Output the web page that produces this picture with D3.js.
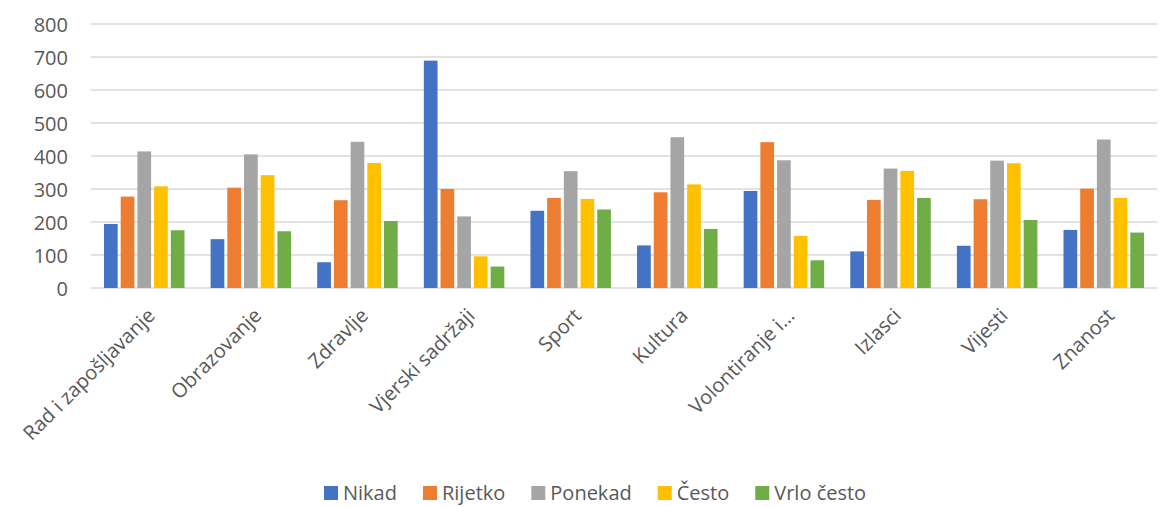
<!DOCTYPE html>
<html>
<head>
<meta charset="utf-8">
<script src="https://cdn.jsdelivr.net/npm/d3@7"></script>
<style>
  body { margin: 0; background: #fff; }
  text { font-family: "Open Sans", sans-serif; fill: #595959; }
</style>
</head>
<body>
<svg id="chart" width="1167" height="507"></svg>
<script>
const categories = ["Rad i zapošljavanje", "Obrazovanje", "Zdravlje", "Vjerski sadržaji", "Sport",
    "Kultura", "Volontiranje i…", "Izlasci", "Vijesti", "Znanost"];
const seriesNames = ["Nikad", "Rijetko", "Ponekad", "Često", "Vrlo često"];
const nikad = [194, 148, 78, 689, 234, 129, 294, 111, 128, 176];
const rijetko = [277, 304, 266, 300, 273, 290, 442, 267, 269, 301];
const ponekad = [414, 405, 443, 217, 354, 457, 387, 362, 386, 450];
const cesto = [308, 342, 379, 96, 270, 314, 158, 355, 378, 273];
const vrloCesto = [175, 172, 203, 65, 238, 179, 84, 273, 206, 168];
const yTicks = [0, 100, 200, 300, 400, 500, 600, 700, 800];
const colors = ["#4472c4", "#ed7d31", "#a5a5a5", "#ffc000", "#70ad47"];

const allSeries = [nikad, rijetko, ponekad, cesto, vrloCesto];
const data = categories.map((c, i) => ({
    cat: c,
    values: seriesNames.map((s, j) => ({ key: s, value: allSeries[j][i] })),
}));

const svg = d3.select("#chart");
const plotLeft = 91, plotRight = 1157, plotTop = 24, plotBottom = 288;

const x0 = d3.scaleBand().domain(categories).range([plotLeft, plotRight])
    .paddingInner(0.245).paddingOuter(0.122);
const x1 = d3.scaleBand().domain(seriesNames).range([0, x0.bandwidth()]).paddingInner(0.18);
const y = d3.scaleLinear().domain([0, 800]).range([plotBottom, plotTop]);
const color = d3.scaleOrdinal().domain(seriesNames).range(colors);

// gridlines
svg.append("g")
    .selectAll("line")
    .data(yTicks)
    .join("line")
    .attr("x1", plotLeft)
    .attr("x2", plotRight)
    .attr("y1", (d) => y(d))
    .attr("y2", (d) => y(d))
    .attr("stroke", "#d9d9d9")
    .attr("stroke-width", 1.3);

// y axis labels
const yAxis = svg.append("g")
    .attr("transform", `translate(${plotLeft - 23},0)`)
    .call(d3.axisLeft(y).tickValues(yTicks).tickSize(0).tickPadding(0));
yAxis.select(".domain").remove();
yAxis.selectAll("text").style("font-size", "20px").attr("dy", "0.35em");

// bars
svg.append("g")
    .selectAll("g")
    .data(data)
    .join("g")
    .attr("transform", (d) => `translate(${x0(d.cat)},0)`)
    .selectAll("rect")
    .data((d) => d.values)
    .join("rect")
    .attr("x", (d) => x1(d.key))
    .attr("y", (d) => y(d.value))
    .attr("width", x1.bandwidth())
    .attr("height", (d) => y(0) - y(d.value))
    .attr("fill", (d) => color(d.key));

// category labels, rotated like excel does it
svg.append("g")
    .selectAll("text")
    .data(categories)
    .join("text")
    .attr("transform", (d) => `translate(${x0(d) + x0.bandwidth() / 2 + 2},${plotBottom + 19}) rotate(-45)`)
    .attr("text-anchor", "end")
    .attr("dy", "0.7em")
    .style("font-size", "20px")
    .text((d) => d);

// legend - flow left to right
const legend = svg.append("g").attr("transform", "translate(324,493)");
let cursor = 0;
seriesNames.forEach((name) => {
    const item = legend.append("g").attr("transform", `translate(${cursor},0)`);
    item.append("rect")
        .attr("x", 0)
        .attr("y", -7)
        .attr("width", 14)
        .attr("height", 14)
        .attr("fill", color(name));
    const label = item.append("text")
        .attr("x", 19)
        .attr("dy", "0.36em")
        .style("font-size", "20px")
        .text(name);
    cursor += 19 + label.node().getComputedTextLength() + 26;
});
</script>
</body>
</html>
